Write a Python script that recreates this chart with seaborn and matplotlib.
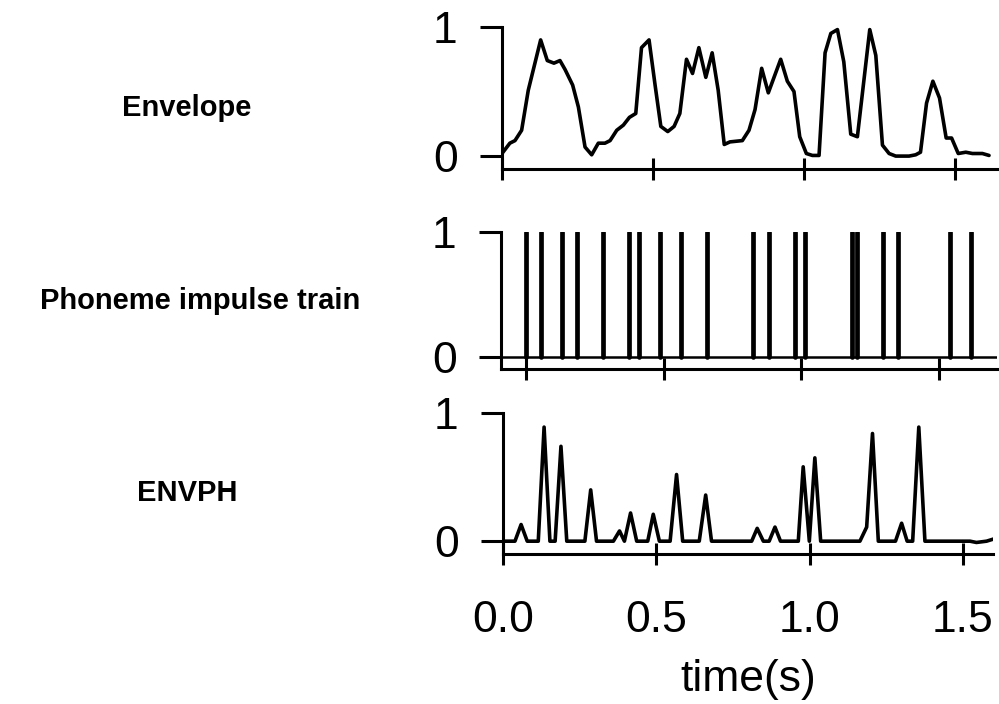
import numpy as np
import pandas as pd
import matplotlib
matplotlib.use("Agg")
import matplotlib.pyplot as plt
import seaborn as sns

# ---------------- data ----------------
env_t = [0.000, 0.026, 0.043, 0.065, 0.087, 0.128, 0.150, 0.172, 0.192, 0.209,
         0.234, 0.253, 0.275, 0.297, 0.319, 0.341, 0.358, 0.380, 0.402, 0.422,
         0.443, 0.462, 0.487, 0.507, 0.526, 0.549, 0.570, 0.589, 0.611, 0.631,
         0.652, 0.675, 0.696, 0.716, 0.736, 0.755, 0.796, 0.818, 0.838, 0.860,
         0.882, 0.923, 0.945, 0.967, 0.986, 1.008, 1.028, 1.050, 1.070, 1.089,
         1.111, 1.132, 1.155, 1.177, 1.218, 1.238, 1.260, 1.282, 1.304, 1.348,
         1.370, 1.386, 1.406, 1.427, 1.449, 1.471, 1.489, 1.511, 1.536, 1.558,
         1.591, 1.613]
env_v = [0.02, 0.10, 0.12, 0.20, 0.51, 0.90, 0.74, 0.72, 0.74, 0.67,
         0.55, 0.38, 0.07, 0.01, 0.10, 0.10, 0.12, 0.20, 0.24, 0.30,
         0.33, 0.84, 0.90, 0.55, 0.23, 0.19, 0.23, 0.33, 0.75, 0.64,
         0.84, 0.61, 0.80, 0.51, 0.09, 0.11, 0.12, 0.20, 0.36, 0.68,
         0.49, 0.75, 0.58, 0.50, 0.15, 0.02, 0.005, 0.005, 0.80, 0.95,
         0.98, 0.73, 0.17, 0.15, 0.98, 0.78, 0.085, 0.02, 0.0, 0.0,
         0.01, 0.03, 0.41, 0.58, 0.45, 0.14, 0.14, 0.02, 0.03, 0.02,
         0.02, 0.005]

impulse_t = [0.000, 0.054, 0.130, 0.186, 0.281, 0.374, 0.412, 0.487, 0.562, 0.656,
             0.826, 0.883, 0.977, 1.013, 1.183, 1.201, 1.296, 1.352, 1.540, 1.615]
impulse_v = [1.0] * len(impulse_t)

envph_t = [0.000, 0.039, 0.059, 0.079, 0.115, 0.134, 0.153, 0.170, 0.189, 0.208,
           0.267, 0.286, 0.305, 0.360, 0.380, 0.396, 0.416, 0.436, 0.472, 0.490,
           0.510, 0.545, 0.566, 0.586, 0.640, 0.661, 0.680, 0.811, 0.829, 0.849,
           0.868, 0.887, 0.905, 0.963, 0.979, 0.999, 1.017, 1.036, 1.164, 1.186,
           1.205, 1.224, 1.280, 1.300, 1.318, 1.336, 1.356, 1.376, 1.523, 1.544,
           1.577, 1.604]
envph_v = [0.0, 0.0, 0.13, 0.0, 0.0, 0.89, 0.0, 0.0, 0.74, 0.0,
           0.0, 0.40, 0.0, 0.0, 0.08, 0.0, 0.22, 0.0, 0.0, 0.21,
           0.0, 0.0, 0.52, 0.0, 0.0, 0.36, 0.0, 0.0, 0.10, 0.0,
           0.0, 0.11, 0.0, 0.0, 0.58, 0.0, 0.65, 0.0, 0.0, 0.11,
           0.84, 0.0, 0.0, 0.14, 0.0, 0.0, 0.89, 0.0, 0.0, -0.01,
           0.0, 0.02]

row_labels = ["Envelope", "Phoneme impulse train", "ENVPH"]
x_ticks = [0.0, 0.5, 1.0, 1.5]
x_tick_labels = ["0.0", "0.5", "1.0", "1.5"]
y_ticks = [0, 1]
y_tick_labels = ["0", "1"]
x_label = "time(s)"

# ---------------- style ----------------
sns.set_theme(style="white")
plt.rcParams["font.family"] = ["Liberation Sans", "DejaVu Sans"]
plt.rcParams["text.color"] = "black"
plt.rcParams["axes.labelcolor"] = "black"
plt.rcParams["xtick.color"] = "black"
plt.rcParams["ytick.color"] = "black"

W, H = 999, 704
fig = plt.figure(figsize=(W / 100, H / 100), dpi=100)


def px_axes(left, right, top, bottom):
    return fig.add_axes([left / W, 1 - bottom / H, (right - left) / W, (bottom - top) / H])


ax1 = px_axes(502, 999, 27, 169)
ax2 = px_axes(501, 997, 232, 369)
ax3 = px_axes(503, 993, 413, 554)

LW_SPINE = 2.2
LW_DATA = 2.6
FS = 32

sns.lineplot(x=env_t, y=env_v, ax=ax1, color="black", lw=LW_DATA,
             estimator=None, sort=False)

ax2.axhline(0, color="black", lw=1.8, zorder=1)
vl = ax2.vlines(impulse_t, 0, impulse_v, color="black", lw=3.4, zorder=2)
vl.set_capstyle("round")

sns.lineplot(x=envph_t, y=envph_v, ax=ax3, color="black", lw=LW_DATA,
             estimator=None, sort=False)

xlims = [(0.0, 1.646), (-0.091, 1.711), (0.0, 1.598)]

for i, ax in enumerate([ax1, ax2, ax3]):
    ax.set_xlim(*xlims[i])
    ax.set_ylim(-0.1, 1.0)
    for s in ["top", "right"]:
        ax.spines[s].set_visible(False)
    for s in ["left", "bottom"]:
        ax.spines[s].set_linewidth(LW_SPINE)
        ax.spines[s].set_color("black")
    ax.set_xticks(x_ticks)
    ax.set_yticks(y_ticks)
    ax.set_yticklabels(y_tick_labels)
    ax.tick_params(axis="x", direction="inout", length=16, width=LW_SPINE,
                   color="black", labelcolor="black", pad=25, labelsize=FS,
                   bottom=True)
    ax.tick_params(axis="y", direction="out", length=16, width=LW_SPINE,
                   color="black", labelcolor="black", pad=16, labelsize=FS,
                   left=True)
    ax.set_xlabel("")
    ax.set_ylabel("")
    ax.patch.set_alpha(0)
    if i < 2:
        ax.tick_params(axis="x", labelbottom=False)
    else:
        ax.set_xticklabels(x_tick_labels)
        ax.set_xlabel(x_label, fontsize=FS, labelpad=13, color="black")

label_pos = [(187, 108), (200, 301), (187, 493)]
for lab, (x, y) in zip(row_labels, label_pos):
    fig.text(x / W, 1 - y / H, lab, ha="center", va="center",
             fontsize=21, fontweight="bold", color="black")

fig.savefig("out.png", dpi=100)
